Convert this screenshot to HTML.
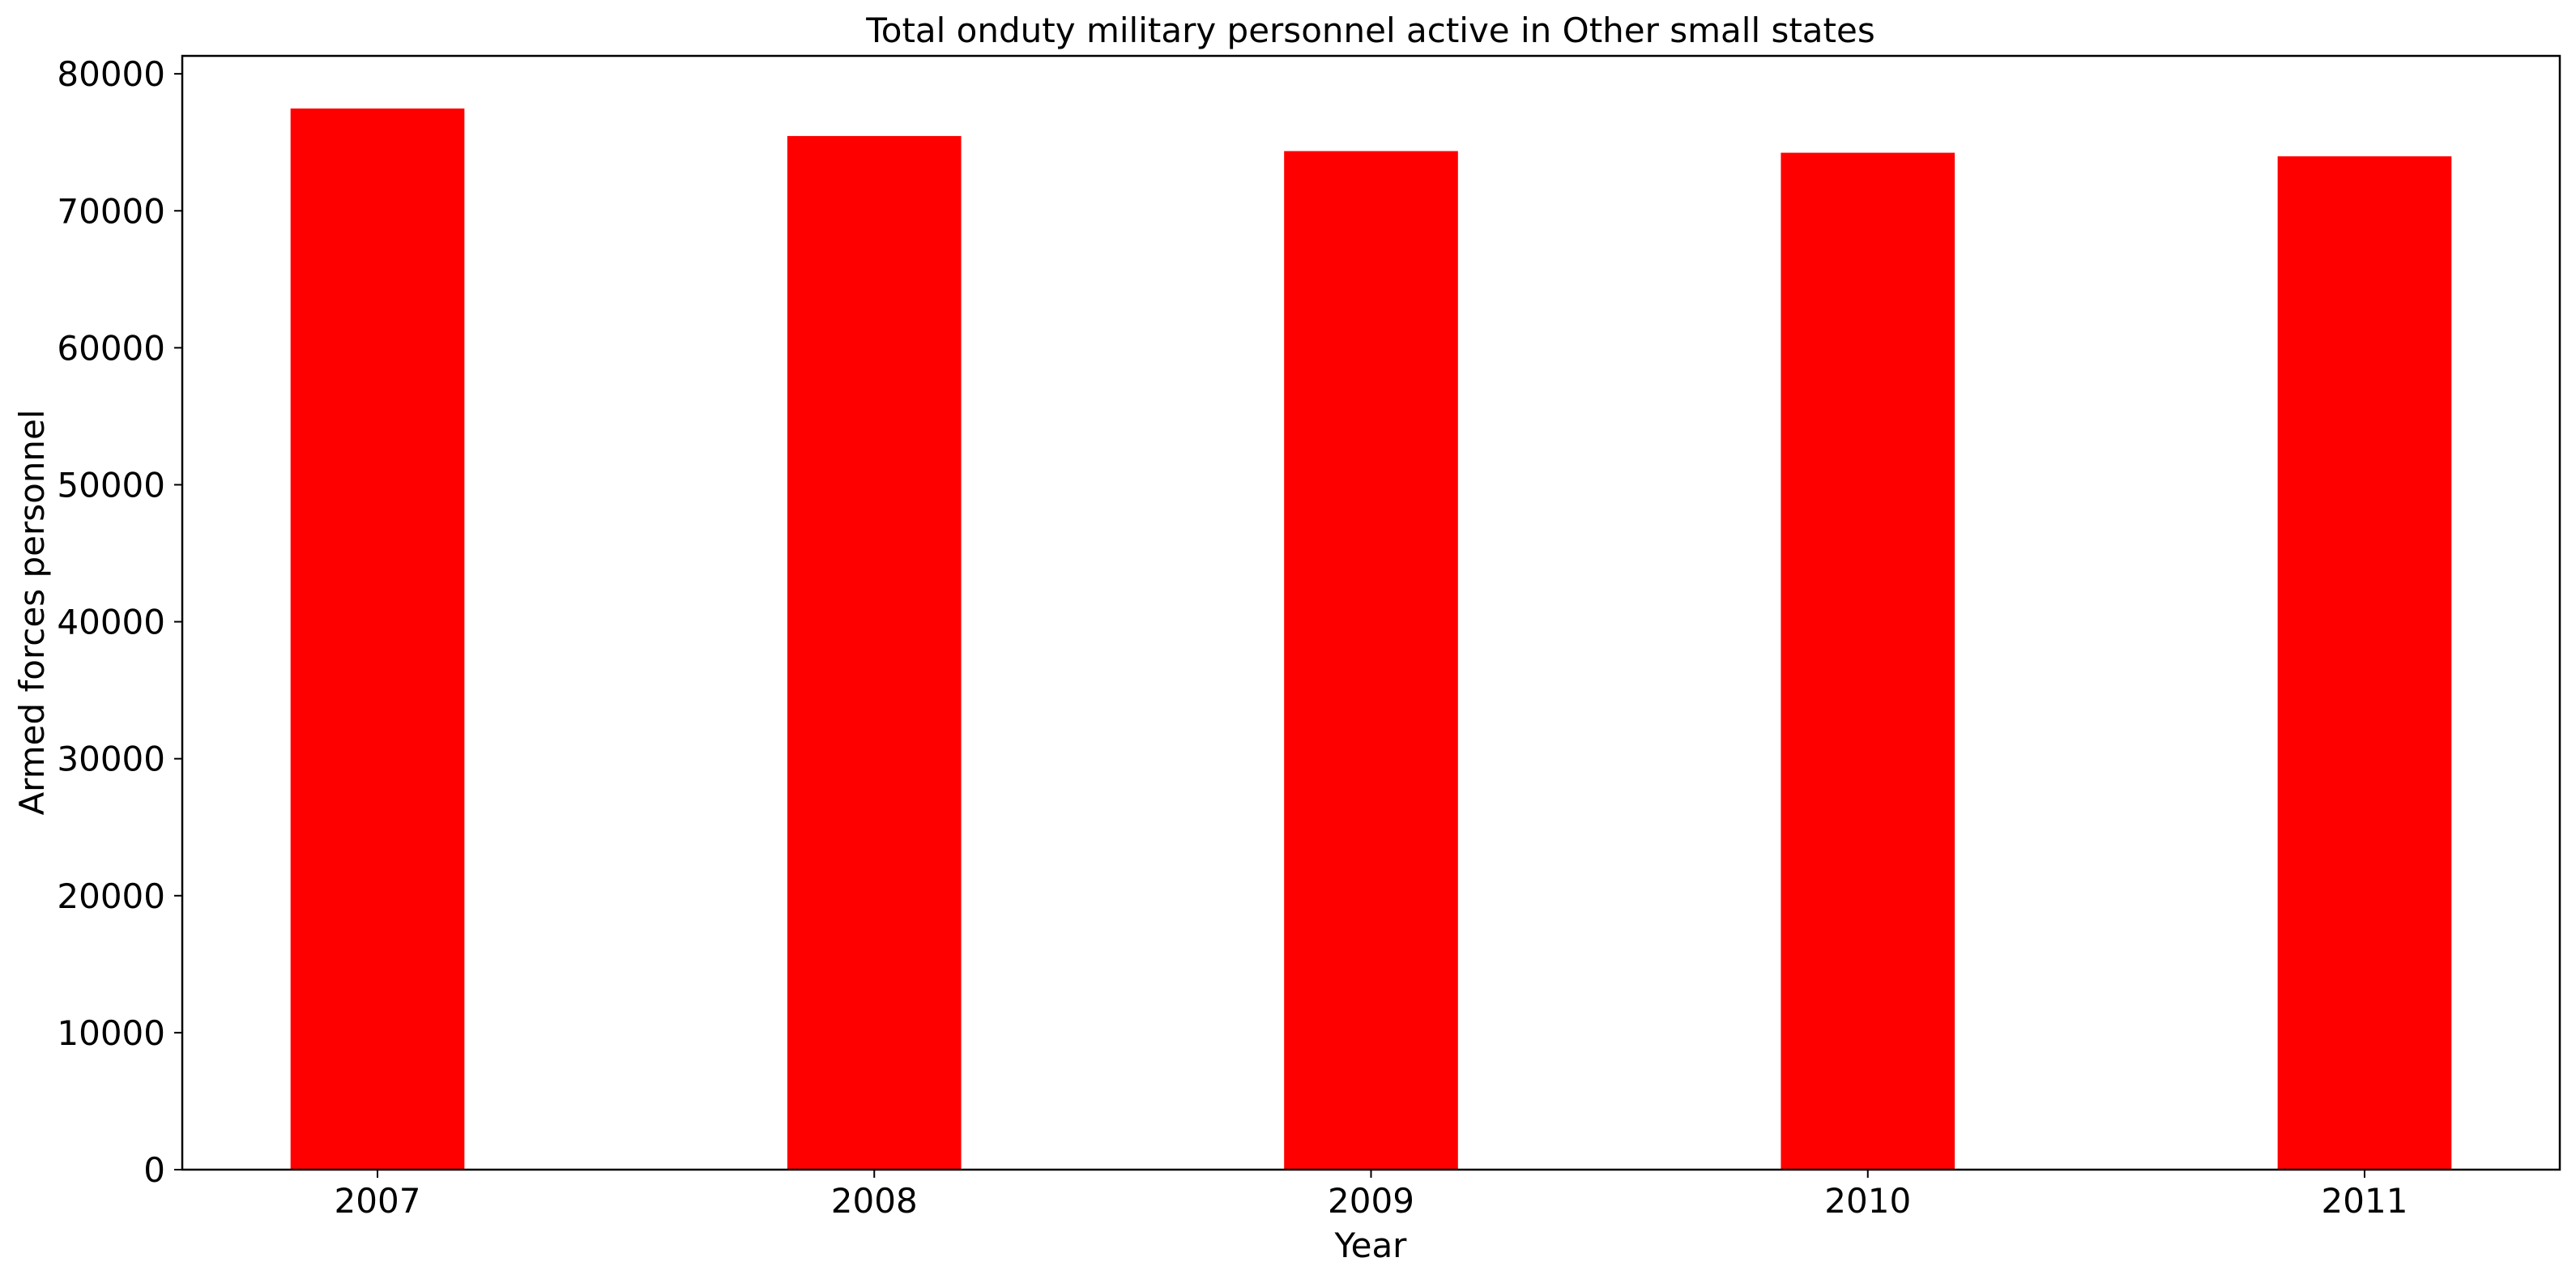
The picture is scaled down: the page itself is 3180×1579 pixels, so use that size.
<!DOCTYPE html>
<html><head><meta charset="utf-8"><style>html,body{margin:0;padding:0;background:#fff}svg{display:block}text{font-family:"DejaVu Sans","Liberation Sans",sans-serif;fill:#000}</style></head>
<body>
<svg id="chart" width="3180" height="1579" viewBox="0 0 3180 1579" xmlns="http://www.w3.org/2000/svg">
<rect width="3180" height="1579" fill="#fff"/>
<text x="1692" y="52" font-size="42" text-anchor="middle">Total onduty military personnel active in Other small states</text>
<g id="bars"></g>
<g id="axes"></g>
<text x="1692" y="1552" font-size="42" text-anchor="middle">Year</text>
<text transform="translate(54,756) rotate(-90)" font-size="42" text-anchor="middle">Armed forces personnel</text>
</svg>
<script>
const categories = ["2007","2008","2009","2010","2011"];
const values = [77470, 75460, 74360, 74240, 73980];
const yTicks = [0,10000,20000,30000,40000,50000,60000,70000,80000];
const L=225,R=3160,T=69,B=1444;
const xMin=-0.393,xMax=categories.length-1+0.393,yMax=81310;
const xs=i=>L+(i-xMin)/(xMax-xMin)*(R-L);
const ys=v=>B-v/yMax*(B-T);
const NS="http://www.w3.org/2000/svg";
const bars=document.getElementById('bars'),axes=document.getElementById('axes');
const bw=0.35*(R-L)/(xMax-xMin);
function mk(tag,attrs,parent){const e=document.createElementNS(NS,tag);for(const k in attrs)e.setAttribute(k,attrs[k]);parent.appendChild(e);return e;}
values.forEach((v,i)=>{
  const r=mk('rect',{x:xs(i)-bw/2,y:ys(v),width:bw,height:B-ys(v),fill:'#ff0000'},bars);
  
  
  const t=mk('line',{x1:xs(i),x2:xs(i),y1:B,y2:B+10,stroke:'#000','stroke-width':2},axes);
  
  
  const l=mk('text',{x:xs(i),y:B+53,'font-size':42,'text-anchor':'middle'},axes);
  l.textContent=categories[i];
  
  
});
yTicks.forEach(v=>{
  const t=mk('line',{x1:L-10,x2:L,y1:ys(v),y2:ys(v),stroke:'#000','stroke-width':2},axes);
  
  
  const l=mk('text',{x:L-21,y:ys(v)+15,'font-size':42,'text-anchor':'end'},axes);
  l.textContent=v;
  
  
});
const f=mk('rect',{x:L,y:T,width:R-L,height:B-T,fill:'none',stroke:'#000','stroke-width':2.5},axes);


</script>
</body></html>
